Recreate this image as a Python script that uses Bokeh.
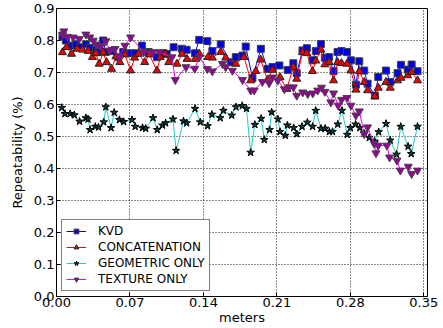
from bokeh.plotting import figure
from bokeh.models import Range1d, FixedTicker, PrintfTickFormatter, Legend, LegendItem
from bokeh.embed import file_html
from bokeh.resources import INLINE

# ---- data ----
kvd_x = [0.0057, 0.0089, 0.0143, 0.0184, 0.0223, 0.0280, 0.0318, 0.0375, 0.0397, 0.0445, 0.0470, 0.0525,
         0.0588, 0.0636, 0.0706, 0.0750, 0.0814, 0.0878, 0.0957, 0.1020, 0.1050, 0.1116, 0.1195, 0.1240,
         0.1320, 0.1360, 0.1437, 0.1485, 0.1565, 0.1660, 0.1708, 0.1772, 0.1803, 0.1867, 0.1947, 0.2010,
         0.2058, 0.2124, 0.2203, 0.2257, 0.2289, 0.2344, 0.2385, 0.2439, 0.2471, 0.2519, 0.2557, 0.2598,
         0.2640, 0.2678, 0.2716, 0.2767, 0.2805, 0.2853, 0.2885, 0.2932, 0.2964, 0.3034, 0.3066, 0.3139,
         0.3180, 0.3250, 0.3282, 0.3346, 0.3384, 0.3440]
kvd_y = [0.812, 0.800, 0.784, 0.788, 0.779, 0.788, 0.777, 0.771, 0.764, 0.800, 0.764, 0.767,
         0.748, 0.764, 0.760, 0.760, 0.784, 0.764, 0.748, 0.760, 0.758, 0.779, 0.774, 0.771,
         0.760, 0.802, 0.798, 0.767, 0.788, 0.732, 0.748, 0.753, 0.781, 0.683, 0.774, 0.711,
         0.717, 0.722, 0.708, 0.729, 0.698, 0.769, 0.776, 0.738, 0.767, 0.789, 0.746, 0.748,
         0.704, 0.764, 0.767, 0.764, 0.738, 0.662, 0.735, 0.706, 0.665, 0.628, 0.686, 0.706,
         0.670, 0.698, 0.724, 0.709, 0.725, 0.704]

concat_x = [0.0057, 0.0095, 0.0143, 0.0197, 0.0248, 0.0302, 0.0343, 0.0375, 0.0407, 0.0445, 0.0477, 0.0525,
            0.0566, 0.0604, 0.0652, 0.0706, 0.0744, 0.0782, 0.0840, 0.0884, 0.0957, 0.0989, 0.1037, 0.1069,
            0.1148, 0.1196, 0.1244, 0.1323, 0.1361, 0.1444, 0.1485, 0.1565, 0.1612, 0.1708, 0.1787, 0.1851,
            0.1899, 0.1946, 0.2010, 0.2058, 0.2130, 0.2194, 0.2257, 0.2289, 0.2344, 0.2385, 0.2439, 0.2471,
            0.2519, 0.2557, 0.2598, 0.2640, 0.2678, 0.2716, 0.2767, 0.2805, 0.2853, 0.2885, 0.2932, 0.2964,
            0.3034, 0.3066, 0.3139, 0.3180, 0.3250, 0.3282, 0.3346, 0.3384, 0.3440]
concat_y = [0.763, 0.779, 0.758, 0.774, 0.771, 0.767, 0.748, 0.760, 0.727, 0.763, 0.732, 0.711,
            0.750, 0.732, 0.756, 0.706, 0.746, 0.758, 0.732, 0.756, 0.706, 0.748, 0.758, 0.732,
            0.727, 0.758, 0.742, 0.742, 0.758, 0.748, 0.746, 0.764, 0.746, 0.727, 0.748, 0.675,
            0.704, 0.740, 0.677, 0.708, 0.685, 0.648, 0.717, 0.680, 0.763, 0.760, 0.704, 0.737,
            0.771, 0.725, 0.732, 0.675, 0.732, 0.729, 0.727, 0.706, 0.646, 0.704, 0.670, 0.644,
            0.625, 0.652, 0.670, 0.652, 0.675, 0.683, 0.691, 0.701, 0.675]

geo_x = [0.005, 0.008, 0.013, 0.017, 0.022, 0.028, 0.030, 0.032, 0.037, 0.040, 0.045, 0.047, 0.052, 0.055,
         0.060, 0.064, 0.072, 0.075, 0.082, 0.085, 0.092, 0.096, 0.101, 0.104, 0.111, 0.114, 0.121, 0.124,
         0.132, 0.137, 0.144, 0.148, 0.156, 0.159, 0.167, 0.171, 0.177, 0.181, 0.185, 0.189, 0.195, 0.198,
         0.203, 0.205, 0.211, 0.213, 0.218, 0.220, 0.226, 0.229, 0.234, 0.239, 0.244, 0.247, 0.252, 0.256,
         0.260, 0.263, 0.268, 0.272, 0.277, 0.280, 0.285, 0.289, 0.293, 0.298, 0.303, 0.307, 0.314, 0.318,
         0.324, 0.328, 0.335, 0.338, 0.344]
geo_y = [0.590, 0.571, 0.571, 0.567, 0.547, 0.558, 0.554, 0.521, 0.531, 0.529, 0.545, 0.592, 0.527, 0.575,
         0.552, 0.546, 0.552, 0.531, 0.527, 0.525, 0.558, 0.521, 0.535, 0.542, 0.554, 0.456, 0.548, 0.542,
         0.587, 0.545, 0.533, 0.569, 0.558, 0.581, 0.566, 0.592, 0.596, 0.587, 0.450, 0.537, 0.556, 0.490,
         0.521, 0.576, 0.554, 0.515, 0.503, 0.535, 0.527, 0.508, 0.531, 0.544, 0.531, 0.581, 0.525, 0.525,
         0.515, 0.515, 0.538, 0.581, 0.506, 0.527, 0.538, 0.527, 0.510, 0.496, 0.485, 0.514, 0.540, 0.488,
         0.444, 0.531, 0.469, 0.446, 0.531]

tex_x = [0.0057, 0.0070, 0.0102, 0.0159, 0.0216, 0.0280, 0.0318, 0.0350, 0.0382, 0.0420, 0.0470, 0.0509,
         0.0557, 0.0598, 0.0652, 0.0706, 0.0830, 0.0916, 0.0980, 0.1100, 0.1132, 0.1234, 0.1317, 0.1361,
         0.1437, 0.1485, 0.1581, 0.1612, 0.1676, 0.1772, 0.1851, 0.1883, 0.1962, 0.2026, 0.2058, 0.2108,
         0.2171, 0.2219, 0.2257, 0.2289, 0.2346, 0.2394, 0.2442, 0.2489, 0.2525, 0.2557, 0.2614, 0.2640,
         0.2684, 0.2716, 0.2767, 0.2805, 0.2853, 0.2885, 0.2932, 0.2964, 0.3028, 0.3044, 0.3066, 0.3148,
         0.3174, 0.3244, 0.3276, 0.3352, 0.3384, 0.3440]
tex_y = [0.819, 0.829, 0.812, 0.810, 0.805, 0.819, 0.810, 0.800, 0.788, 0.781, 0.798, 0.769,
         0.774, 0.748, 0.784, 0.810, 0.764, 0.764, 0.764, 0.748, 0.677, 0.717, 0.712, 0.748,
         0.711, 0.704, 0.727, 0.717, 0.706, 0.677, 0.644, 0.644, 0.671, 0.667, 0.685, 0.675,
         0.648, 0.654, 0.654, 0.628, 0.638, 0.633, 0.635, 0.644, 0.653, 0.640, 0.607, 0.635,
         0.597, 0.615, 0.621, 0.597, 0.566, 0.579, 0.508, 0.529, 0.477, 0.448, 0.472, 0.472,
         0.435, 0.425, 0.394, 0.406, 0.383, 0.394]

x_ticks = [0.0, 0.07, 0.14, 0.21, 0.28, 0.35]
y_ticks = [0.0, 0.1, 0.2, 0.3, 0.4, 0.5, 0.6, 0.7, 0.8, 0.9]

FONT = "DejaVu Sans"

p = figure(width=443, height=328, output_backend="svg", toolbar_location=None,
           x_range=Range1d(0, 0.3535), y_range=Range1d(0, 0.9),
           min_border_left=56, min_border_right=16, min_border_top=8, min_border_bottom=32)
p.background_fill_color = "white"
p.border_fill_color = "white"
p.outline_line_color = "black"
p.outline_line_width = 1
p.outline_line_alpha = 1

for ax in (p.xaxis[0], p.yaxis[0]):
    ax.major_tick_in = 4
    ax.major_tick_out = 0
    ax.minor_tick_in = 0
    ax.minor_tick_out = 0
    ax.axis_line_color = "black"
    ax.major_tick_line_color = "black"
    ax.major_label_text_font = FONT
    ax.major_label_text_font_size = "13px"
    ax.major_label_text_color = "black"
    ax.axis_label_text_font = FONT
    ax.axis_label_text_font_size = "13px"
    ax.axis_label_text_font_style = "normal"
    ax.axis_label_text_color = "black"
    ax.major_label_standoff = 1
    ax.axis_label_standoff = 0

p.xaxis[0].ticker = FixedTicker(ticks=x_ticks)
p.xaxis[0].formatter = PrintfTickFormatter(format="%.2f")
p.yaxis[0].ticker = FixedTicker(ticks=y_ticks)
p.yaxis[0].formatter = PrintfTickFormatter(format="%.1f")
p.yaxis[0].major_label_standoff = 2
p.yaxis[0].axis_label_standoff = 6
p.xaxis[0].axis_label = "meters"
p.yaxis[0].axis_label = "Repeatability (%)"

p.xgrid.ticker = FixedTicker(ticks=x_ticks)
p.ygrid.ticker = FixedTicker(ticks=y_ticks)
for g in (p.xgrid[0], p.ygrid[0]):
    g.grid_line_color = "black"
    g.grid_line_dash = "1 2"
    g.grid_line_alpha = 0.9
    g.grid_line_width = 1

l1 = p.line(kvd_x, kvd_y, line_color="#0000ff", line_width=1)
s1 = p.scatter(kvd_x, kvd_y, marker="square", size=7, fill_color="#0000ee", line_color="#444444", line_width=1)
l2 = p.line(concat_x, concat_y, line_color="#ff0000", line_width=1)
s2 = p.scatter(concat_x, concat_y, marker="triangle", size=8, fill_color="#ee0000", line_color="#222222", line_width=1)
l3 = p.line(geo_x, geo_y, line_color="#22cccc", line_width=1)
s3 = p.scatter(geo_x, geo_y, marker="star", size=8, fill_color="#0b3b3b", line_color="#000000", line_width=1)
l4 = p.line(tex_x, tex_y, line_color="#ee00ee", line_width=1)
s4 = p.scatter(tex_x, tex_y, marker="inverted_triangle", size=8, fill_color="#990099", line_color="#444444", line_width=1)

legend = Legend(items=[
    LegendItem(label="KVD", renderers=[l1, s1]),
    LegendItem(label="CONCATENATION", renderers=[l2, s2]),
    LegendItem(label="GEOMETRIC ONLY", renderers=[l3, s3]),
    LegendItem(label="TEXTURE ONLY", renderers=[l4, s4]),
], location="bottom_left")
legend.label_text_font = FONT
legend.label_text_font_size = "12px"
legend.label_text_color = "black"
legend.label_text_line_height = 1.0
legend.border_line_color = "black"
legend.border_line_width = 1
legend.background_fill_color = "white"
legend.background_fill_alpha = 1
legend.glyph_width = 20
legend.glyph_height = 12
legend.label_height = 12
legend.spacing = 2
legend.padding = 4
legend.margin = 5
legend.label_standoff = 12
p.add_layout(legend)

open("out.html", "w").write(file_html(p, INLINE))
